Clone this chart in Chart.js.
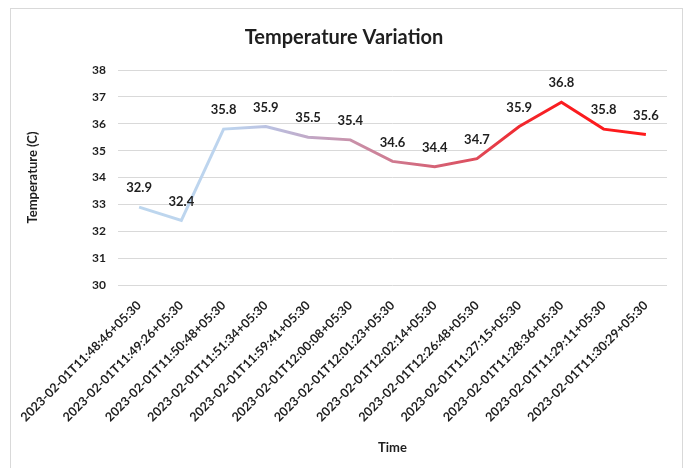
<!DOCTYPE html>
<html>
<head>
<meta charset="utf-8">
<script src="https://cdn.jsdelivr.net/npm/chart.js@4/dist/chart.umd.min.js"></script>
<style>
html,body{margin:0;padding:0;background:#fff;}
#wrap{width:690px;height:468px;position:relative;}
</style>
</head>
<body>
<div id="wrap"><canvas id="c" width="690" height="468"></canvas></div>
<script>
const categories = [
  "2023-02-01T11:48:46+05:30",
  "2023-02-01T11:49:26+05:30",
  "2023-02-01T11:50:48+05:30",
  "2023-02-01T11:51:34+05:30",
  "2023-02-01T11:59:41+05:30",
  "2023-02-01T12:00:08+05:30",
  "2023-02-01T12:01:23+05:30",
  "2023-02-01T12:02:14+05:30",
  "2023-02-01T12:26:48+05:30",
  "2023-02-01T11:27:15+05:30",
  "2023-02-01T11:28:36+05:30",
  "2023-02-01T11:29:11+05:30",
  "2023-02-01T11:30:29+05:30"
];
const temperatures = [32.9, 32.4, 35.8, 35.9, 35.5, 35.4, 34.6, 34.4, 34.7, 35.9, 36.8, 35.8, 35.6];
const yTicks = [30, 31, 32, 33, 34, 35, 36, 37, 38];

const FONT = 'Lato, "Open Sans", sans-serif';
const TEXT = '#1f1f1f';

const framePlugin = {
  id: 'frame',
  beforeDraw(chart) {
    const ctx = chart.ctx;
    ctx.save();
    ctx.fillStyle = '#fff';
    ctx.fillRect(0, 0, chart.width, chart.height);
    ctx.strokeStyle = '#d9d9d9';
    ctx.lineWidth = 1;
    ctx.strokeRect(10.5, 8.5, 672, 470);
    ctx.restore();
  }
};

const labelPlugin = {
  id: 'pointLabels',
  afterDatasetsDraw(chart) {
    const ctx = chart.ctx;
    const meta = chart.getDatasetMeta(0);
    const data = chart.data.datasets[0].data;
    ctx.save();
    ctx.font = 'bold 13px ' + FONT;
    ctx.fillStyle = TEXT;
    ctx.textAlign = 'center';
    ctx.textBaseline = 'middle';
    meta.data.forEach((pt, i) => {
      ctx.fillText(data[i].toFixed(1), pt.x, pt.y - 19);
    });
    ctx.restore();
  }
};

function lineGradient(context) {
  const chart = context.chart;
  const area = chart.chartArea;
  if (!area) return '#bdd7ee';
  const g = chart.ctx.createLinearGradient(area.left, 0, area.right, 0);
  g.addColorStop(0.00, '#bdd7ee');
  g.addColorStop(0.20, '#bdd4ee');
  g.addColorStop(0.28, '#bbc0e0');
  g.addColorStop(0.36, '#c2a4c2');
  g.addColorStop(0.43, '#c990a8');
  g.addColorStop(0.57, '#d46478');
  g.addColorStop(0.64, '#dc5060');
  g.addColorStop(0.73, '#f02a30');
  g.addColorStop(0.80, '#fa1c20');
  g.addColorStop(1.00, '#ff1a1a');
  return g;
}

new Chart(document.getElementById('c'), {
  type: 'line',
  data: {
    labels: categories,
    datasets: [{
      data: temperatures,
      borderColor: lineGradient,
      borderWidth: 3,
      pointRadius: 0,
      tension: 0,
      fill: false
    }]
  },
  options: {
    responsive: false,
    animation: false,
    devicePixelRatio: 1,
    layout: { padding: { left: 21, right: 23, top: 10, bottom: 12 } },
    plugins: {
      legend: { display: false },
      tooltip: { enabled: false },
      title: {
        display: true,
        text: 'Temperature Variation',
        color: TEXT,
        font: { family: FONT, size: 20, weight: 'bold' },
        padding: { top: 16, bottom: 20 }
      }
    },
    scales: {
      x: {
        offset: true,
        afterFit(scale) { scale.height = 171; },
        grid: { display: false, drawTicks: false },
        border: { display: false },
        ticks: {
          color: TEXT,
          font: { family: FONT, size: 12.5, weight: 'bold' },
          minRotation: 45,
          maxRotation: 45,
          autoSkip: false,
          padding: 13
        },
        title: {
          display: true,
          text: 'Time',
          color: TEXT,
          font: { family: FONT, size: 13, weight: 'bold' },
          padding: { top: 4, bottom: 0 }
        }
      },
      y: {
        min: 30,
        max: 38,
        afterBuildTicks(scale) { scale.ticks = yTicks.map(v => ({ value: v })); },
        afterFit(scale) { scale.width = 97; },
        grid: { color: '#d9d9d9', lineWidth: 1, drawTicks: false },
        border: { display: false },
        ticks: {
          color: TEXT,
          font: { family: FONT, size: 12, weight: 'bold' },
          padding: 12
        },
        title: {
          display: true,
          text: 'Temperature (C)',
          color: TEXT,
          font: { family: FONT, size: 13, weight: 'bold' },
          padding: 4
        }
      }
    }
  },
  plugins: [framePlugin, labelPlugin]
});
</script>
</body>
</html>
